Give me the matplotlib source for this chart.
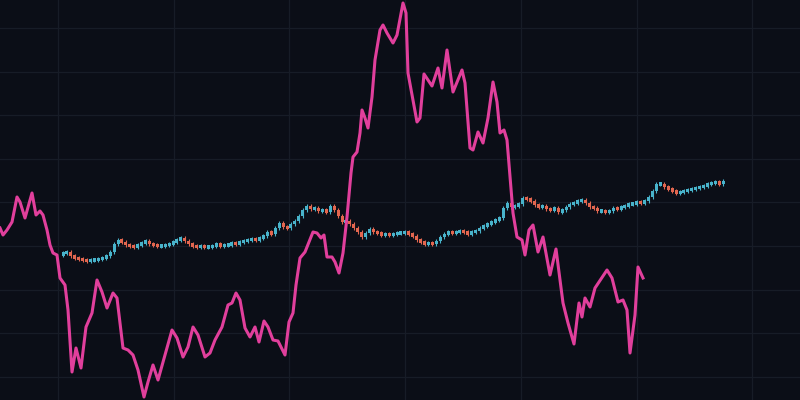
import matplotlib.pyplot as plt
import numpy as np

# candle closes (price units), one per bar
closes = [147, 148, 144, 142, 141, 140, 139, 140, 140, 141, 142, 144, 148, 156, 160, 158, 155, 154, 153, 155,
          157, 159, 156, 155, 154, 154, 155, 156, 158, 160, 162, 159, 156, 154, 153, 154, 153, 153, 154, 156,
          154, 155, 155, 157, 156, 158, 159, 160, 161, 160, 162, 164, 168, 166, 172, 177, 173, 172, 176, 179,
          184, 190, 194, 191, 192, 189, 190, 188, 194, 190, 184, 178, 179, 176, 172, 168, 163, 167, 171, 168,
          167, 165, 166, 165, 166, 167, 167, 168, 166, 164, 160, 158, 156, 157, 156, 159, 163, 166, 168, 167,
          168, 169, 168, 166, 168, 169, 172, 174, 176, 178, 180, 182, 192, 197, 193, 194, 196, 202, 201, 199,
          195, 193, 194, 191, 190, 192, 188, 190, 193, 196, 197, 199, 200, 197, 193, 192, 189, 189, 188, 189,
          192, 191, 193, 194, 196, 196, 198, 197, 199, 203, 209, 216, 216, 213, 211, 209, 207, 208, 209, 210,
          211, 212, 213, 214, 216, 217, 218, 216, 219]
first_open = 145

# pink indicator line (time, value)
line_t = [0, 3, 7, 12, 17, 20, 25, 32, 36, 40, 43, 47, 50, 53, 57, 60, 65, 68, 72, 76,
          81, 86, 92, 97, 102, 107, 113, 117, 123, 128, 133, 138, 144, 148, 153, 158, 163, 172, 177, 183,
          188, 193, 198, 205, 210, 215, 222, 228, 232, 236, 240, 245, 250, 255, 259, 264, 268, 273, 278, 285,
          289, 293, 296, 300, 305, 313, 317, 321, 324, 327, 332, 335, 339, 343, 347, 351, 353, 357, 360, 362,
          365, 368, 372, 375, 380, 383, 387, 393, 397, 403, 406, 408, 412, 417, 420, 424, 432, 438, 442, 447,
          453, 462, 465, 470, 473, 478, 483, 488, 493, 497, 500, 504, 507, 510, 513, 517, 522, 525, 529, 533,
          538, 543, 550, 556, 563, 568, 574, 579, 582, 585, 590, 595, 607, 612, 618, 623, 627, 630, 635, 638,
          643]
line_v = [172, 165, 170, 178, 203, 198, 182, 207, 185, 189, 185, 170, 155, 147, 145, 122, 115, 90, 28, 52,
          32, 73, 87, 120, 108, 92, 107, 102, 52, 50, 45, 30, 3, 18, 35, 20, 38, 70, 62, 43,
          53, 73, 65, 43, 47, 60, 73, 95, 97, 107, 100, 72, 63, 73, 58, 79, 73, 60, 59, 45,
          78, 87, 115, 142, 148, 168, 167, 162, 165, 143, 143, 138, 127, 147, 183, 227, 243, 248, 267, 290,
          282, 272, 303, 340, 370, 375, 367, 357, 365, 397, 387, 327, 305, 278, 282, 326, 314, 332, 312, 350,
          308, 330, 317, 252, 250, 268, 257, 282, 318, 298, 267, 270, 260, 223, 187, 163, 160, 145, 170, 175,
          148, 163, 125, 151, 97, 77, 56, 97, 83, 102, 93, 112, 130, 122, 98, 100, 90, 47, 85, 133,
          122]

bg = "#0b0e17"
grid_col = "#171c27"
up_col = "#48b3cb"
down_col = "#e3664f"
pink = "#e13f9c"

fig = plt.figure(figsize=(8, 4), dpi=100, facecolor=bg)
ax = fig.add_axes([0, 0, 1, 1])
ax.set_facecolor(bg)
ax.set_xlim(0, 800)
ax.set_ylim(0, 400)

# grid
ax.set_xticks(58 + 115.7 * np.arange(7))
ax.set_yticks(400 - (28 + 43.6 * np.arange(9)))
ax.grid(True, color=grid_col, lw=0.9, zorder=0)
ax.tick_params(length=0, labelbottom=False, labelleft=False)
for s in ax.spines.values():
    s.set_visible(False)

# candles
closes = np.array(closes, dtype=float)
opens = np.concatenate([[first_open], closes[:-1]])
t = 63 + 3.93 * np.arange(len(closes))
wick_pad = 2.0
for ti, o, c in zip(t, opens, closes):
    col = up_col if c >= o else down_col
    lo, hi = min(o, c), max(o, c)
    ax.vlines(ti, lo - wick_pad, hi + wick_pad, color=col, lw=0.8, zorder=2)
    h = max(hi - lo, 3.2)
    ax.bar(ti, h, bottom=(lo + hi) / 2 - h / 2, width=3.0, color=col, lw=0, zorder=3)

# indicator line
ax.plot(line_t, line_v, color=pink, lw=2.2, solid_joinstyle="round", zorder=4)

fig.savefig("out.png", dpi=100, facecolor=bg)
